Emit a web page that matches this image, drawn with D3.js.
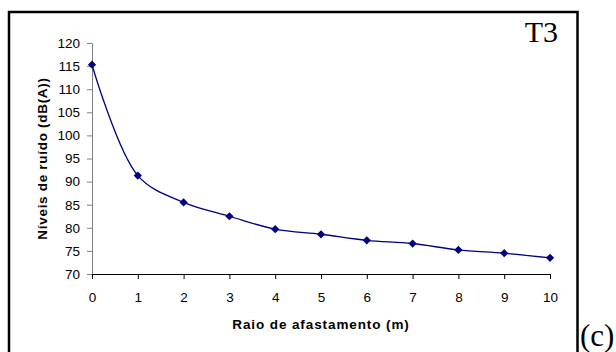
<!DOCTYPE html>
<html><head><meta charset="utf-8">
<script src="https://cdn.jsdelivr.net/npm/d3@7"></script>
<style>body{margin:0;background:#fff}svg{display:block}</style>
</head><body>
<script>
const distances = [0,1,2,3,4,5,6,7,8,9,10];
const levels = [115.3,91.3,85.5,82.5,79.7,78.6,77.3,76.6,75.2,74.5,73.5];
const yTicks = [70,75,80,85,90,95,100,105,110,115,120];
const xTicks = [0,1,2,3,4,5,6,7,8,9,10];

const W=616,H=352;
const svg=d3.select("body").append("svg").attr("width",W).attr("height",H);
svg.append("rect").attr("x",9).attr("y",12).attr("width",568.5).attr("height",360)
  .attr("fill","none").attr("stroke","#000").attr("stroke-width",2.5);

const x=d3.scaleLinear().domain([0,10]).range([92,550]);
const y=d3.scaleLinear().domain([70,120]).range([274,43]);

const yAx=svg.append("g").attr("transform","translate(92,0)")
  .call(d3.axisLeft(y).tickValues(yTicks).tickSize(5).tickSizeOuter(0).tickPadding(7));
yAx.select(".domain").attr("stroke","#808080");
yAx.selectAll(".tick line").attr("stroke","#808080");
yAx.selectAll("text").attr("font-family","Liberation Sans, Arial").attr("font-size",13.5).attr("fill","#000");

const xAx=svg.append("g").attr("transform","translate(0,274)")
  .call(d3.axisBottom(x).tickValues(xTicks).tickSize(5).tickSizeOuter(0).tickPadding(13));
xAx.select(".domain").attr("stroke","#000");
xAx.selectAll(".tick line").attr("stroke","#000");
xAx.selectAll("text").attr("font-family","Liberation Sans, Arial").attr("font-size",13.5).attr("fill","#000");

const pts=distances.map((d,i)=>[d,levels[i]]);
svg.append("path").datum(pts)
  .attr("d",d3.line().x(d=>x(d[0])).y(d=>y(d[1])).curve(d3.curveCatmullRom.alpha(0.5)))
  .attr("fill","none").attr("stroke","#000080").attr("stroke-width",1.3);
svg.selectAll(".m").data(pts).enter().append("path")
  .attr("d",d3.symbol(d3.symbolSquare,34))
  .attr("transform",d=>`translate(${x(d[0])},${y(d[1])}) rotate(45)`)
  .attr("fill","#000080");

svg.append("text").attr("x",321).attr("y",329).attr("text-anchor","middle")
  .attr("font-family","Liberation Sans, Arial").attr("font-weight","bold").attr("font-size",13.5)
  .attr("letter-spacing",0.9)
  .text("Raio de afastamento (m)");
svg.append("text").attr("transform","translate(46.5,158.5) rotate(-90)").attr("text-anchor","middle")
  .attr("font-family","Liberation Sans, Arial").attr("font-weight","bold").attr("font-size",13.5)
  .attr("letter-spacing",0.7)
  .text("Níveis de ruído (dB(A))");
svg.append("text").attr("x",558).attr("y",42).attr("text-anchor","end")
  .attr("font-family","Liberation Serif, Times New Roman").attr("font-size",30).text("T3");
svg.append("text").attr("x",580).attr("y",346)
  .attr("font-family","Liberation Serif, Times New Roman").attr("font-size",31).text("(c)");
</script>
</body></html>
